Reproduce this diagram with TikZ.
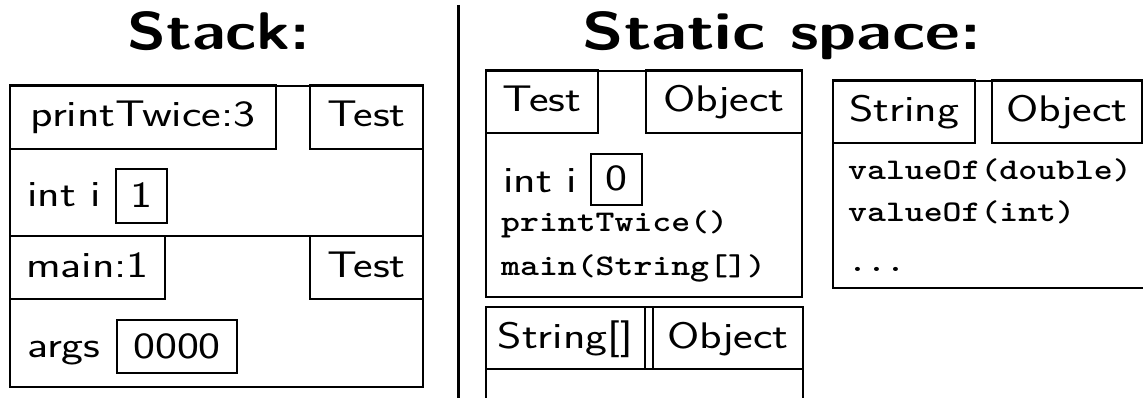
\documentclass[tikz,border=0pt]{standalone}
\usepackage{graphicx}
\usepackage{tikz}
\usetikzlibrary{positioning}
\tikzstyle{hdr}=[draw, rectangle, line width=2.8pt, inner sep=0pt, outer sep=0pt, text height=23pt, text depth=3pt]
\tikzstyle{val}=[draw, rectangle, line width=2.8pt, inner sep=0pt, outer sep=0pt, text height=23pt, text depth=0pt]
\tikzstyle{lbl}=[anchor=base west, inner sep=0pt]
\tikzstyle{code}=[anchor=base west, inner sep=0pt, font=\ttfamily\bfseries\fontsize{30}{34}\selectfont]
\tikzstyle{ttl}=[anchor=base, inner sep=0pt, font=\sffamily\bfseries\fontsize{53}{60}\selectfont]
\tikzstyle{frm}=[line width=2.4pt]
\tikzstyle{seam}=[line width=1.4pt]
\def\sw#1{\scalebox{1.26}[1]{#1}}
\def\tw#1{\scalebox{1.2}[1]{#1}}
\def\bw#1#2{\scalebox{#1}[1]{#2}}

\begin{document}
\begin{tikzpicture}[x=1pt, y=-1pt, every node/.style={font=\sffamily\fontsize{37}{42}\selectfont}]
    \useasboundingbox (0,0) rectangle (1143,398);

    % titles and divider
    \node [ttl] (tstack)  at (219,50) {\bw{1.2}{Stack:}};
    \node [ttl] (tstatic) at (782,50) {\bw{1.28}{Static space:}};
    \coordinate (dtop) at (458,5);
    \coordinate (dbot) at (458,398);
    \draw [line width=3pt] (dtop) -- (dbot);

    % stack frames
    \draw [seam] (10,86) -- (423,86);
    \draw [seam] (10,236) -- (423,236);
    \draw [frm] (10,85) -- (10,387) -- (423,387) -- (423,85);
    \node [hdr, minimum width=266pt, minimum height=64pt, anchor=north west] (ptw)  at (10,85)  {\sw{printTwice:3}};
    \node [hdr, minimum width=113pt, minimum height=64pt, anchor=north east] (ptwc) at (423,85) {\sw{Test}};
    \node [lbl] (inti) at (27,207) {\sw{int i}};
    \node [val, minimum width=51pt, minimum height=54pt] (iv) at (141.5,196) {\sw{1}};
    \node [hdr, minimum width=155pt, minimum height=63pt, anchor=north west] (mn)  at (10,236)  {\sw{main:1}};
    \node [hdr, minimum width=113pt, minimum height=63pt, anchor=north east] (mnc) at (423,236) {\sw{Test}};
    \node [lbl] (args) at (27,357) {\sw{args}};
    \node [val, minimum width=120pt, minimum height=53pt] (av) at (177,346.5) {\sw{0000}};

    % class Test
    \draw [seam] (486,71) -- (802,71);
    \draw [frm] (486,70) -- (486,297) -- (802,297) -- (802,70);
    \node [hdr, minimum width=112pt, minimum height=63pt, anchor=north west] (test)  at (486,70) {\sw{Test}};
    \node [hdr, minimum width=156pt, minimum height=63pt, anchor=north east] (testo) at (802,70) {\sw{Object}};
    \node [lbl] (sinti) at (503,193) {\sw{int i}};
    \node [val, minimum width=51pt, minimum height=51pt] (sv) at (616.5,179.5) {\sw{0}};
    \node [code] (mprt) at (501,232) {\tw{printTwice()}};
    \node [code] (mmain) at (501,275) {\tw{main(String[])}};

    % class String[]
    \draw [frm] (486,400) -- (486,307) -- (803,307) -- (803,400);
    \draw [seam] (486,369) -- (803,369);
    \node [hdr, minimum width=159pt, minimum height=62pt, anchor=north west] (sarr)  at (486,307) {\sw{String[]}};
    \node [hdr, minimum width=150pt, minimum height=62pt, anchor=north east] (sarro) at (803,307) {\sw{Object}};

    % class String
    \draw [seam] (833,81) -- (1143,81);
    \draw [frm] (833,80) -- (833,288) -- (1143,288);
    \node [hdr, minimum width=142pt, minimum height=63pt, anchor=north west] (str)  at (833,80)  {\sw{String}};
    \node [hdr, minimum width=150pt, minimum height=63pt, anchor=north east] (stro) at (1142,80) {\sw{Object}};
    \node [code] (vdbl) at (848,180) {\tw{valueOf(double)}};
    \node [code] (vint) at (848,222) {\tw{valueOf(int)}};
    \node [code] (vdots) at (848,271) {\tw{...}};

\end{tikzpicture}
\end{document}
